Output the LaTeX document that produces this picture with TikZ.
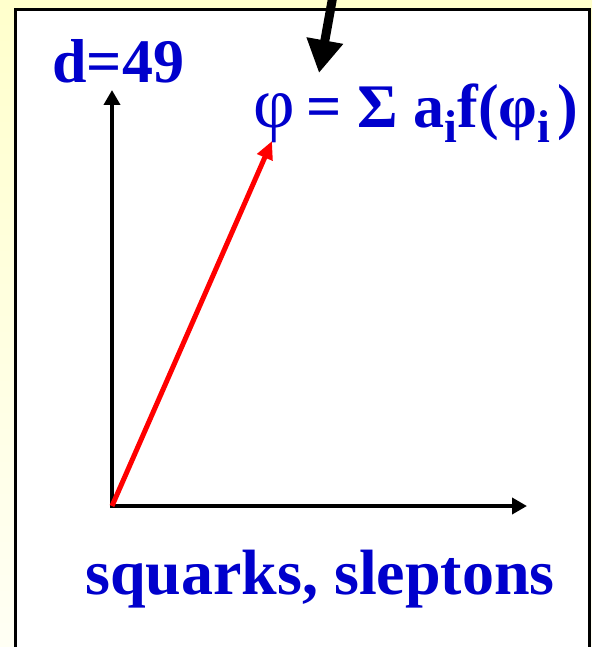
\documentclass[tikz,border=0pt]{standalone}
\usepackage{fontspec}
\setmainfont{Liberation Serif}
\usetikzlibrary{arrows.meta}
\definecolor{labelblue}{RGB}{0,0,204}
\definecolor{slideyellow}{RGB}{255,255,204}
\definecolor{paleyellow}{RGB}{255,255,244}
\newcommand\subi{\raisebox{-15pt}{\fontsize{46}{46}\selectfont i}}
\begin{document}
\begin{tikzpicture}[x=1pt, y=-1pt, >={Triangle[length=15pt,width=16pt]},
  lbl/.style={anchor=base west, inner sep=0pt, text=labelblue,
    font=\fontsize{62}{62}\selectfont\bfseries}]
  \useasboundingbox (0,0) rectangle (592,647);
  \clip (0,0) rectangle (592,647);
  \shade[top color=slideyellow, bottom color=paleyellow] (0,0) rectangle (592,647);
  \draw[line width=3pt, fill=white] (15,10) rectangle (589,670);
  \coordinate (O) at (112,506);
  \coordinate (ytip) at (112,90);
  \coordinate (xtip) at (527,506);
  \coordinate (phitip) at (272,141);
  \coordinate (top) at (334,-10);
  \coordinate (ptr) at (319,73);
  \draw[line width=4.5pt, line cap=rect, ->] (O) -- (ytip);
  \draw[line width=4.5pt, line cap=rect, ->] (O) -- (xtip);
  \draw[red, line width=5pt, -{Triangle[length=18pt,width=16pt]}] (O) -- (phitip);
  \draw[line width=9pt, -{Triangle[length=33pt,width=35pt]}] (top) -- (ptr);
  \node[lbl] (dim) at (52,83) {d=49};
  \node[lbl] (sum) at (253,128) {{\mdseries\fontsize{72}{72}\selectfont φ}\hspace{12pt}= Σ a\subi f(φ\subi\hspace{7pt})};
  \node[lbl, font=\fontsize{64}{64}\selectfont\bfseries] (axis) at (85,594) {squarks, sleptons};
\end{tikzpicture}
\end{document}
